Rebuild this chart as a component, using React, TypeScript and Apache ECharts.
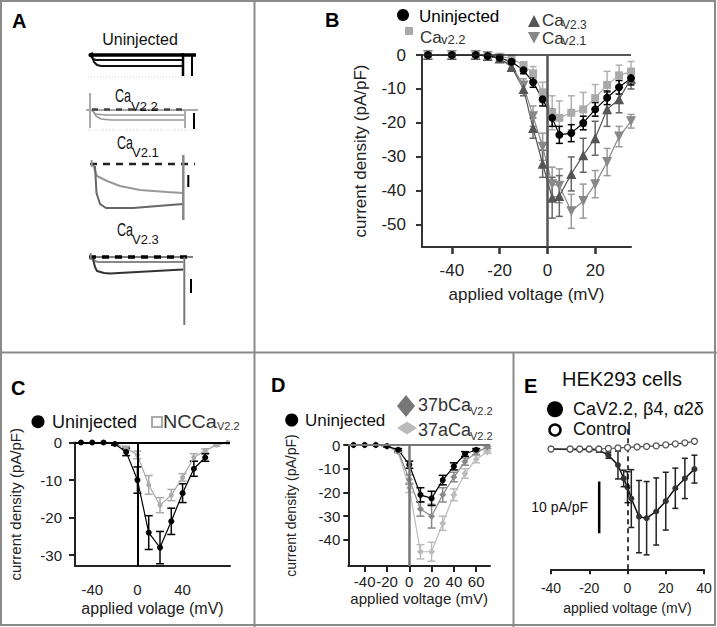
import React, { useEffect, useRef } from 'react';
import * as echarts from 'echarts';

const FONT = '"Liberation Sans", Arial, Helvetica, sans-serif';

// ---------- Panel A: example current traces ([time ms, current a.u.]) ----------
const aUninjBase = [[3, 0], [110, 0]];
const aUninjHook = [[3, 0], [7, 2], [3, 0], [7, -2]];
const aUninjTrace1 = [[5, -1], [7, -4], [10, -5], [97, -5]];
const aUninjTrace2 = [[6, -1], [8, -7], [11, -10], [15, -11], [97, -11]];
const aUninjTail = [[97, 2], [97, -21]];
const aUninjScale = [[106, -1], [106, -21]];
const aUninjDots = [[2, -22], [110, -22]];

const a22Base = [[0, 0], [112, 0]];
const a22Hold = [[6, 0.5], [96, 0.5]];
const a22Trace1 = [[6, -1], [10, -4], [20, -5], [99, -5]];
const a22Trace2 = [[7, -1], [10, -6], [15, -9], [25, -10], [99, -10]];
const a22Left = [[4, 17], [4, -18]];
const a22Tail = [[99, 0], [99, -18]];
const a22Scale = [[108, -3], [108, -19]];
const a22Dots = [[2, -20], [112, -20]];

const a21Hold = [[4, 0], [109, 0]];
const a21Left = [[5.7, 4], [5.7, -3]];
const a21Trace1 = [[7, -1], [11, -12], [21, -17], [34, -22], [54, -26], [81, -28], [97, -29]];
const a21Trace2 = [[9, -2], [10.5, -29], [14, -40], [20, -44], [47, -44], [97, -40]];
const a21Tail = [[97.3, 9], [97.3, -56]];
const a21Scale = [[102.3, -11], [102.3, -23]];

const a23Base = [[3, 0], [107, 0]];
const a23Left = [[4.7, 4], [4.7, -3]];
const a23Trace1 = [[6, -1], [9, -4], [12, -5], [97, -5]];
const a23Trace2 = [[7, -2], [9, -10], [11, -14], [18, -16], [24, -16.5], [97, -12.5]];
const a23Tail = [[98.3, 0], [98.3, -68]];
const a23Scale = [[105, -22], [105, -36]];

// ---------- Panel B ----------
const bV = [-50, -40, -30, -25, -20, -15, -10, -6, -2, 2, 5, 10, 15, 20, 25, 30, 35];
const bUninj = [0, 0, 0, -0.3, -0.8, -2, -4.5, -8, -13, -18.5, -23.5, -23, -20, -16, -12.6, -9.5, -6.8];
const bUninjErr = [0, 0, 0, 0.2, 0.3, 0.5, 1, 1.5, 2, 2.5, 2.5, 2.5, 2, 2, 2, 2, 2];
const bCav22 = [0, 0, 0, -0.2, -0.5, -1, -3, -5.4, -11, -17, -18.5, -17, -16, -12.7, -8.8, -6, -4.9];
const bCav22Err = [0, 0, 0, 0.2, 0.3, 0.5, 1, 2, 3, 5, 5, 5, 5, 4, 4, 3, 3];
const bCav23 = [0, 0, 0, -0.3, -1, -3.5, -10, -21.5, -32, -42, -41.5, -35, -29.5, -24.5, -16, -13, -7];
const bCav23Err = [0, 0, 0, 0.2, 0.4, 1, 2, 3, 4, 6, 6, 5, 5, 5, 5, 4, 3];
const bCav21 = [0, 0, 0, -0.3, -1, -3, -9, -18, -27, -38, -38.5, -46, -43, -38, -31.5, -24, -19.5];
const bCav21Err = [0, 0, 0, 0.2, 0.4, 1, 2, 3, 4, 5, 5, 5, 5, 4, 4, 3, 2];
const bXTicks = [-40, -20, 0, 20];
const bYTicks = [0, -10, -20, -30, -40, -50];

// ---------- Panel C ----------
const cV = [-50, -40, -30, -20, -10, 0, 10, 20, 30, 40, 50, 60];
const cUninj = [0, 0, 0, -0.4, -2.5, -10, -24, -28, -21, -13.5, -7, -4];
const cUninjErr = [0, 0, 0, 0.3, 1, 3.5, 4.5, 4.3, 3.5, 2.5, 2, 1];
const cNccV = [-50, -40, -30, -20, -10, 0, 10, 20, 30, 40, 50, 60, 70, 80];
const cNcc = [0, 0, 0, -0.3, -1.5, -3.3, -11.3, -16.7, -14, -9.3, -4, -2.2, -0.7, 0];
const cNccErr = [0, 0, 0, 0.2, 0.5, 1, 2.5, 2, 1.5, 1, 1, 0.5, 0.3, 0];
const cXTicks = [-40, 0, 40];
const cYTicks = [0, -10, -20, -30];

// ---------- Panel D ----------
const dV = [-50, -40, -30, -20, -10, 0, 10, 20, 30, 40, 50, 60];
const dUninj = [0, 0, 0, -0.5, -2, -8.3, -21, -22.5, -14.8, -9, -3.8, -2];
const dUninjErr = [0, 0, 0, 0.3, 0.5, 1.5, 3, 3, 2, 1.5, 1, 0.5];
const dV37 = [-50, -40, -30, -20, -10, 0, 10, 20, 30, 40, 50, 60, 70];
const d37b = [0, 0, 0, -0.5, -2.5, -14.5, -27, -30, -21, -13.5, -7, -3, -1];
const d37bErr = [0, 0, 0, 0.3, 0.5, 2, 3, 5, 3, 2, 1.5, 1, 0.5];
const d37a = [0, 0, 0, -0.5, -3, -18, -45, -45, -33, -21, -12, -6, -3];
const d37aErr = [0, 0, 0, 0.3, 0.5, 2, 3, 4, 3, 2.5, 2, 1.5, 0.5];
const dXTicks = [-40, -20, 0, 20, 40, 60];
const dYTicks = [0, -10, -20, -30, -40];

// ---------- Panel E ----------
const eV = [-40, -30, -25, -20, -15, -10, -5, -2, 0, 2, 6, 10, 15, 20, 25, 30, 35];
const eCa = [0, -0.1, -0.1, -0.1, -0.2, -1.2, -3.1, -5.7, -7.4, -9.6, -13.1, -13.4, -12.1, -10.1, -7.6, -5.7, -3.9];
const eCaErr = [0, 0.2, 0.2, 0.3, 0.4, 0.6, 2.7, 1.6, 3, 5.6, 7, 7.1, 6.5, 5.6, 3.9, 3.9, 2.7];
const eCtrlV = [-40, -30, -25, -20, -15, -10, -5, 0, 5, 10, 15, 20, 25, 30, 35];
const eCtrl = [0, 0, 0, 0, 0, 0.1, 0.2, 0.3, 0.4, 0.5, 0.6, 0.8, 1, 1.2, 1.5];
const eScaleV = [-14.8, -14.8];
const eScaleI = [-6.3, -16.3];
const eXTicks = [-40, -20, 0, 20, 40];

// ---------- helpers ----------
const pts = (xs: number[], ys: number[]) => xs.map((x, i) => [x, ys[i]]);

function trace(gi: number, data: number[][], color: string, width: number, dash?: any, z = 2) {
  return {
    type: 'line', xAxisIndex: gi, yAxisIndex: gi, data, symbol: 'none', silent: true, z,
    lineStyle: { color, width, type: dash || 'solid', cap: 'butt' },
  };
}

function dataSeries(gi: number, xs: number[], ys: number[], color: string, symbol: string, size: any, opts: any = {}) {
  return {
    type: 'line', xAxisIndex: gi, yAxisIndex: gi, data: pts(xs, ys), symbol, symbolSize: size,
    symbolRotate: opts.rotate || 0, showSymbol: true, silent: true, z: opts.z || 4,
    lineStyle: { color: opts.lineColor || color, width: opts.lineWidth || 1.2 },
    itemStyle: { color: opts.fill || color, borderColor: opts.border || color, borderWidth: opts.borderWidth || 0, opacity: 1 },
    markLine: opts.markLine,
  };
}

function errBars(gi: number, xs: number[], ys: number[], es: number[], color: string, cap: number, lw: number, z = 3) {
  return {
    type: 'custom', xAxisIndex: gi, yAxisIndex: gi, silent: true, z,
    data: xs.map((x, i) => [x, ys[i], es[i]]),
    encode: { x: 0, y: 1 },
    renderItem: (params: any, api: any) => {
      const x = api.value(0), y = api.value(1), e = api.value(2);
      if (!e) return { type: 'group', children: [] };
      const t = api.coord([x, y + e]);
      const b = api.coord([x, y - e]);
      const st = { stroke: color, lineWidth: lw };
      return {
        type: 'group',
        children: [
          { type: 'line', shape: { x1: t[0], y1: t[1], x2: b[0], y2: b[1] }, style: st },
          { type: 'line', shape: { x1: t[0] - cap, y1: t[1], x2: t[0] + cap, y2: t[1] }, style: st },
          { type: 'line', shape: { x1: b[0] - cap, y1: b[1], x2: b[0] + cap, y2: b[1] }, style: st },
        ],
      };
    },
  };
}

const zeroLines = (hColor: string, hW: number, vColor: string, vW: number, vDash: any = 'solid') => ({
  silent: true, symbol: ['none', 'none'], label: { show: false }, animation: false,
  emphasis: { disabled: true },
  data: [
    { yAxis: 0, lineStyle: { color: hColor, width: hW, type: 'solid' } },
    { xAxis: 0, lineStyle: { color: vColor, width: vW, type: vDash } },
  ],
});

function txt(x: number, y: number, text: string, size: number, o: any = {}) {
  return {
    type: 'text', x, y, z: 10, scaleX: o.scaleX || 1,
    style: {
      text, fill: o.color || '#111',
      font: `${o.weight || 'normal'} ${size}px ${FONT}`,
      textAlign: o.align || 'left', textVerticalAlign: o.valign || 'middle',
      align: o.align || 'left', verticalAlign: o.valign || 'middle',
    },
  };
}

const hiddenX = (gi: number) => ({ gridIndex: gi, type: 'value', show: false, min: 0, max: 114 });
const hiddenY = (gi: number, min: number, max: number) => ({ gridIndex: gi, type: 'value', show: false, min, max });

function valueAxis(gi: number, min: number, max: number, ticks: number[], o: any) {
  return {
    gridIndex: gi, type: 'value', min, max,
    axisLine: { show: o.line !== false, onZero: false, lineStyle: { color: o.lineColor || '#333', width: o.lineWidth || 2 } },
    axisTick: { show: o.tick !== false, customValues: ticks, length: o.tickLen || 6, inside: false, lineStyle: { color: o.lineColor || '#333', width: o.tickWidth || 2 } },
    axisLabel: { customValues: ticks, interval: 0, margin: o.margin, fontSize: o.fontSize, color: '#222', fontFamily: FONT, hideOverlap: false },
    splitLine: { show: false },
    name: o.name, nameLocation: 'middle', nameGap: o.nameGap,
    nameTextStyle: { fontSize: o.nameSize, color: '#222', fontFamily: FONT },
  };
}

function buildOption() {
  const BORDER = '#8a8a8a';
  const graphics: any[] = [
    { type: 'rect', shape: { x: 1, y: 1, width: 714, height: 624 }, style: { stroke: BORDER, lineWidth: 2, fill: 'none' } },
    { type: 'line', shape: { x1: 254.5, y1: 0, x2: 254.5, y2: 627 }, style: { stroke: BORDER, lineWidth: 2 } },
    { type: 'line', shape: { x1: 0, y1: 352.5, x2: 717, y2: 352.5 }, style: { stroke: BORDER, lineWidth: 2 } },
    { type: 'line', shape: { x1: 513.5, y1: 352.5, x2: 513.5, y2: 627 }, style: { stroke: BORDER, lineWidth: 2 } },
    // panel letters
    txt(12, 21, 'A', 20, { weight: 'bold', color: '#000' }),
    txt(325, 20, 'B', 20, { weight: 'bold', color: '#000' }),
    txt(11, 388, 'C', 20, { weight: 'bold', color: '#000' }),
    txt(271, 385, 'D', 20, { weight: 'bold', color: '#000' }),
    txt(524, 386, 'E', 20, { weight: 'bold', color: '#000' }),
    // panel A labels
    txt(140, 39, 'Uninjected', 16, { align: 'center' }),
    txt(115, 96, 'Ca', 18, { scaleX: 0.7 }),
    txt(131, 106, 'V2.2', 13),
    txt(117, 143, 'Ca', 18, { scaleX: 0.7 }),
    txt(132, 152, 'V2.1', 13),
    txt(117, 230, 'Ca', 18, { scaleX: 0.7 }),
    txt(132, 239, 'V2.3', 13),
    // panel B legend
    { type: 'circle', shape: { cx: 403, cy: 15, r: 6 }, style: { fill: '#000' } },
    txt(419, 16, 'Uninjected', 17, { color: '#000' }),
    { type: 'rect', shape: { x: 405, y: 27, width: 8, height: 8 }, style: { fill: '#aaa' } },
    txt(420, 37, 'Ca', 17, { color: '#333' }),
    txt(441, 39, 'v2.2', 13, { color: '#333' }),
    { type: 'polygon', shape: { points: [[528, 27], [540, 27], [534, 15]] }, style: { fill: '#555' } },
    txt(542, 20, 'Ca', 17, { color: '#333' }),
    txt(562, 25, 'V2.3', 12, { color: '#333' }),
    { type: 'polygon', shape: { points: [[528, 32], [540, 32], [534, 43.5]] }, style: { fill: '#888' } },
    txt(542, 38.5, 'Ca', 17, { color: '#333' }),
    txt(562, 40, 'v2.1', 13, { color: '#333' }),
    // panel C legend
    { type: 'circle', shape: { cx: 38, cy: 421.7, r: 6.5 }, style: { fill: '#000' } },
    txt(52, 422, 'Uninjected', 18, { color: '#111' }),
    { type: 'rect', shape: { x: 152, y: 417, width: 10, height: 10 }, style: { fill: 'none', stroke: '#aaa', lineWidth: 2 } },
    txt(163, 422, 'NCCa', 18, { color: '#333', scaleX: 1.1 }),
    txt(217, 426, 'V2.2', 11, { color: '#333' }),
    // panel D legend
    { type: 'circle', shape: { cx: 291.7, cy: 420, r: 6.5 }, style: { fill: '#000' } },
    txt(305, 420, 'Uninjected', 17, { color: '#111' }),
    { type: 'polygon', shape: { points: [[397, 406], [406, 395], [415, 406], [406, 417]] }, style: { fill: '#777' } },
    txt(418, 405, '37bCa', 18, { color: '#333' }),
    txt(470, 411, 'V2.2', 11, { color: '#333' }),
    { type: 'polygon', shape: { points: [[397, 428], [407, 421.5], [417, 428], [407, 434.5]] }, style: { fill: '#bbb' } },
    txt(418, 430, '37aCa', 18, { color: '#333' }),
    txt(470, 436, 'V2.2', 11, { color: '#333' }),
    // panel E
    txt(622, 379, 'HEK293 cells', 20, { align: 'center', color: '#111' }),
    { type: 'circle', shape: { cx: 555, cy: 409.3, r: 8 }, style: { fill: '#000' } },
    txt(573, 409, 'CaV2.2, β4, α2δ', 18, { color: '#111' }),
    { type: 'circle', shape: { cx: 555, cy: 430, r: 5.5 }, style: { fill: '#fff', stroke: '#000', lineWidth: 2.5 } },
    txt(573, 429, 'Control', 18, { color: '#111' }),
    txt(588, 507, '10 pA/pF', 14, { align: 'right', color: '#111' }),
  ];

  const grid = [
    { left: 86, top: 48, width: 114, height: 34 },
    { left: 86, top: 90, width: 114, height: 42 },
    { left: 86, top: 152, width: 114, height: 70 },
    { left: 86, top: 248, width: 114, height: 80 },
    { left: 422, top: 55, width: 209, height: 192 },
    { left: 75, top: 442.5, width: 155, height: 123.5 },
    { left: 348.3, top: 445, width: 141.7, height: 121 },
    { left: 551, top: 428, width: 153, height: 141.3 },
  ];

  const xAxis = [
    hiddenX(0), hiddenX(1), hiddenX(2), hiddenX(3),
    valueAxis(4, -52.5, 35, bXTicks, { margin: 15, fontSize: 17, tickLen: 7, tickWidth: 2.5, name: 'applied voltage (mV)', nameGap: 39, nameSize: 17 }),
    valueAxis(5, -55.3, 82, cXTicks, { margin: 16, fontSize: 15, tick: false, lineColor: '#222', name: 'applied volage (mV)', nameGap: 34, nameSize: 16 }),
    valueAxis(6, -54.7, 72.4, dXTicks, { margin: 8, fontSize: 15, tickLen: 6, lineColor: '#222', name: 'applied voltage (mV)', nameGap: 25, nameSize: 15 }),
    valueAxis(7, -40, 40, eXTicks, { margin: 12, fontSize: 14, tickLen: 5, lineColor: '#222', name: 'applied voltage (mV)', nameGap: 32, nameSize: 14 }),
  ];
  const yAxis = [
    hiddenY(0, -27, 7), hiddenY(1, -22, 20), hiddenY(2, -58, 12), hiddenY(3, -71, 9),
    valueAxis(4, -56.5, 0, bYTicks, { margin: 16, fontSize: 17, tickLen: 6, name: 'current density (pA/pF)', nameGap: 53, nameSize: 17 }),
    valueAxis(5, -32.9, 0, cYTicks, { margin: 13, fontSize: 15, tickLen: 6, lineColor: '#222', name: 'current density (pA/pF)', nameGap: 52, nameSize: 15 }),
    valueAxis(6, -51, 0, dYTicks, { margin: 8, fontSize: 15, tickLen: 5, lineColor: '#222', name: 'current density (pA/pF)', nameGap: 50, nameSize: 14 }),
    { gridIndex: 7, type: 'value', show: false, min: -23.3, max: 4.07 },
  ];

  const series: any[] = [
    // ---- A: uninjected
    trace(0, aUninjDots, '#ccc', 1, [1, 2]),
    trace(0, aUninjTrace2, '#111', 2),
    trace(0, aUninjTrace1, '#111', 2),
    trace(0, aUninjBase, '#000', 3.5),
    trace(0, aUninjHook, '#000', 2),
    trace(0, aUninjTail, '#000', 2.5),
    trace(0, aUninjScale, '#000', 2),
    // ---- A: CaV2.2
    trace(1, a22Dots, '#ccc', 1, [1, 2]),
    trace(1, a22Base, '#aaa', 2),
    trace(1, a22Trace1, '#999', 1.5),
    trace(1, a22Trace2, '#999', 1.5),
    trace(1, a22Hold, '#444', 2.5, [6, 6]),
    trace(1, a22Left, '#aaa', 2),
    trace(1, a22Tail, '#aaa', 2),
    trace(1, a22Scale, '#000', 2),
    // ---- A: CaV2.1
    trace(2, a21Trace1, '#999', 2),
    trace(2, a21Trace2, '#666', 2),
    trace(2, a21Hold, '#222', 2.5, [7, 6]),
    trace(2, a21Left, '#999', 2),
    trace(2, a21Tail, '#888', 2.5),
    trace(2, a21Scale, '#000', 2),
    // ---- A: CaV2.3
    trace(3, a23Trace1, '#888', 2),
    trace(3, a23Trace2, '#333', 2),
    trace(3, a23Base, '#555', 1.5),
    trace(3, a23Base, '#000', 3.5, [7, 6]),
    trace(3, a23Left, '#888', 2),
    trace(3, a23Tail, '#777', 2),
    trace(3, a23Scale, '#000', 2),

    // ---- B
    errBars(4, bV, bCav21, bCav21Err, '#999', 3.5, 1.5),
    dataSeries(4, bV, bCav21, '#888', 'triangle', 10, { rotate: 180, markLine: zeroLines('#222', 1.5, '#555', 2.5) }),
    errBars(4, bV, bCav23, bCav23Err, '#666', 3.5, 1.5),
    dataSeries(4, bV, bCav23, '#555', 'triangle', 10),
    errBars(4, bV, bCav22, bCav22Err, '#b0b0b0', 3.5, 1.5),
    dataSeries(4, bV, bCav22, '#aaa', 'rect', 8),
    errBars(4, bV, bUninj, bUninjErr, '#000', 3.5, 1.5),
    dataSeries(4, bV, bUninj, '#000', 'circle', 8),

    // ---- C
    errBars(5, cNccV, cNcc, cNccErr, '#aaa', 4, 1.5),
    dataSeries(5, cNccV, cNcc, '#aaa', 'circle', 5, { markLine: zeroLines('#000', 2, '#000', 2) }),
    errBars(5, cV, cUninj, cUninjErr, '#000', 4, 1.5),
    dataSeries(5, cV, cUninj, '#000', 'circle', 6),

    // ---- D
    errBars(6, dV37, d37a, d37aErr, '#bbb', 4, 1.5),
    dataSeries(6, dV37, d37a, '#bbb', 'diamond', 7, { markLine: zeroLines('#777', 2, '#777', 2.5) }),
    errBars(6, dV37, d37b, d37bErr, '#888', 4, 1.5),
    dataSeries(6, dV37, d37b, '#888', 'diamond', 7),
    errBars(6, dV, dUninj, dUninjErr, '#000', 4, 1.5),
    dataSeries(6, dV, dUninj, '#000', 'circle', 6),

    // ---- E
    errBars(7, eV, eCa, eCaErr, '#222', 3, 1.5),
    dataSeries(7, eV, eCa, '#333', 'circle', 6, { lineColor: '#111', lineWidth: 1.5, markLine: {
      silent: true, symbol: ['none', 'none'], label: { show: false },
      data: [{ xAxis: 0, lineStyle: { color: '#000', width: 1.5, type: [5, 4] } }],
    } }),
    dataSeries(7, eCtrlV, eCtrl, '#444', 'circle', 6, { fill: '#fff', border: '#555', borderWidth: 1.3, lineColor: '#444', lineWidth: 1.2, z: 5 }),
    trace(7, pts(eScaleV, eScaleI), '#000', 2.5),
  ];

  return {
    animation: false,
    backgroundColor: '#fff',
    textStyle: { fontFamily: FONT },
    grid,
    xAxis,
    yAxis,
    series,
    graphic: { elements: graphics },
  };
}

export default function App() {
  const ref = useRef<HTMLDivElement>(null);
  useEffect(() => {
    if (!ref.current) return;
    const chart = echarts.init(ref.current, null, { renderer: 'svg' });
    chart.setOption(buildOption());
    return () => chart.dispose();
  }, []);
  return (
    <div
      ref={ref}
      style={{ position: 'fixed', left: 0, top: 0, width: 717, height: 627, background: '#fff' }}
    />
  );
}
